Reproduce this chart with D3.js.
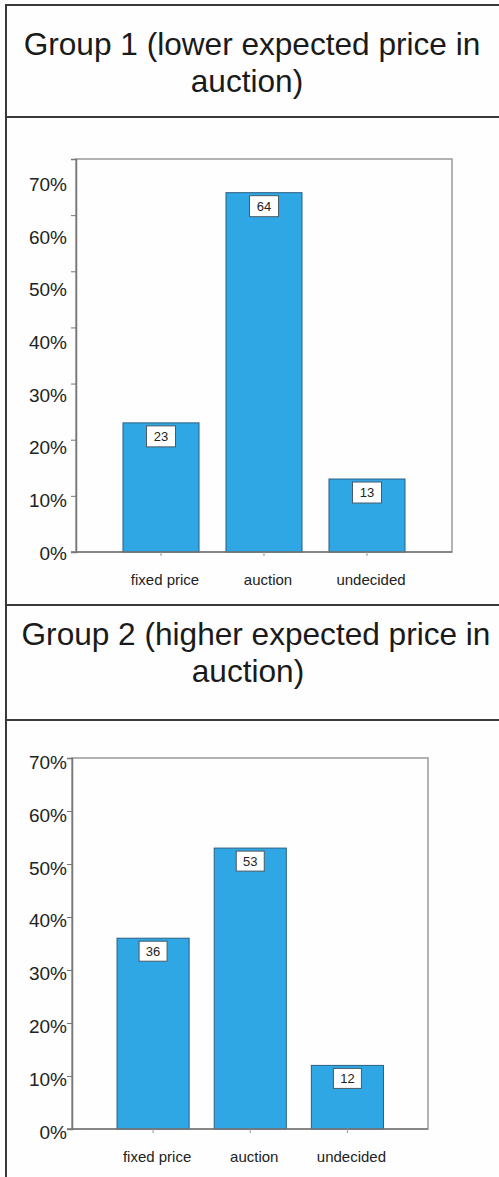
<!DOCTYPE html>
<html>
<head>
<meta charset="utf-8">
<script src="https://cdn.jsdelivr.net/npm/d3@7"></script>
<style>
  body { margin: 0; background: #fefefe; }
  svg { display: block; font-family: "Liberation Sans", Arial, sans-serif; }
</style>
</head>
<body>
<div id="chart"></div>
<script>
// Data
const categories = ['fixed price', 'auction', 'undecided']
const group1Values = [23, 64, 13]
const group2Values = [36, 53, 12]
const yTicks = [0, 10, 20, 30, 40, 50, 60, 70]
const yTickLabels = ['0%', '10%', '20%', '30%', '40%', '50%', '60%', '70%']
const group1Title = ['Group 1 (lower expected price in', 'auction)']
const group2Title = ['Group 2 (higher expected price in', 'auction)']

var width = 499
var height = 1177
var barColor = '#2fa7e5'

var svg = d3.select('#chart')
  .append('svg')
  .attr('width', width)
  .attr('height', height)

// table rules
var rules = [5, 117, 605, 720]
svg.selectAll('line.rule')
  .data(rules)
  .enter()
  .append('line')
  .attr('class', 'rule')
  .attr('x1', 6).attr('x2', width)
  .attr('y1', d => d).attr('y2', d => d)
  .attr('stroke', '#3a3a3a')
  .attr('stroke-width', 2)
svg.append('line')
  .attr('x1', 6).attr('x2', 6)
  .attr('y1', 4).attr('y2', height)
  .attr('stroke', '#3a3a3a')
  .attr('stroke-width', 2)

// panel layouts
var panels = [
  { title: group1Title, titleY: [55, 92], titleX: [252, 247], values: group1Values,
    frame: { left: 76, top: 159, right: 452, bottom: 552 },
    band: [109.5, 418.5], inner: 0.262, labelRange: [553, 184], xLabelY: 585,
    box: { w: 29, h: 21, off: 3 } },
  { title: group2Title, titleY: [645, 682], titleX: [256, 248], values: group2Values,
    frame: { left: 72, top: 758, right: 428, bottom: 1129 },
    band: [104.5, 396], inner: 0.258, labelRange: [1132, 762], xLabelY: 1162,
    box: { w: 28, h: 20, off: 3 } }
]

panels.forEach(p => {
  // title
  svg.append('g').selectAll('text')
    .data(p.title)
    .enter()
    .append('text')
    .attr('x', (d, i) => p.titleX[i])
    .attr('y', (d, i) => p.titleY[i])
    .attr('text-anchor', 'middle')
    .attr('font-size', 31.6)
    .attr('fill', '#1a1a1a')
    .text(d => d)

  const f = p.frame
  const xScale = d3.scaleBand()
    .domain(categories)
    .range(p.band)
    .paddingInner(p.inner)
    .paddingOuter(p.inner / 2)

  const yScale = d3.scaleLinear()
    .domain([0, 70])
    .range([f.bottom, f.top])

  const labelScale = d3.scaleLinear()
    .domain([0, 70])
    .range(p.labelRange)

  // plot frame
  svg.append('rect')
    .attr('x', f.left).attr('y', f.top)
    .attr('width', f.right - f.left)
    .attr('height', f.bottom - f.top)
    .attr('fill', '#fefefe')
    .attr('stroke', '#999')
    .attr('stroke-width', 1.5)

  // bars
  svg.append('g').selectAll('rect')
    .data(p.values)
    .enter()
    .append('rect')
    .attr('x', (d, i) => xScale(categories[i]))
    .attr('y', d => yScale(d))
    .attr('width', xScale.bandwidth())
    .attr('height', d => yScale(0) - yScale(d))
    .attr('fill', barColor)
    .attr('stroke', '#2b5f80')
    .attr('stroke-width', 1)

  // value boxes
  var boxes = svg.append('g').selectAll('g')
    .data(p.values)
    .enter()
    .append('g')
    .attr('transform', (d, i) => 'translate(' + (xScale(categories[i]) + xScale.bandwidth() / 2) + ',' + (yScale(d) + p.box.off) + ')')
  boxes.append('rect')
    .attr('x', -p.box.w / 2)
    .attr('width', p.box.w)
    .attr('height', p.box.h)
    .attr('fill', '#fff')
    .attr('stroke', '#4a5a66')
    .attr('stroke-width', 1)
  boxes.append('text')
    .attr('y', p.box.h / 2)
    .attr('dy', '0.36em')
    .attr('text-anchor', 'middle')
    .attr('font-size', 13)
    .attr('fill', '#222')
    .text(d => d)

  // y axis
  var yAxis = svg.append('g')
    .attr('transform', 'translate(' + f.left + ',0)')
    .call(d3.axisLeft(yScale).tickValues(yTicks).tickSize(5).tickFormat(''))
  yAxis.select('.domain').attr('stroke', '#777').attr('stroke-width', 1.5)
  yAxis.selectAll('.tick line').attr('stroke', '#777')

  svg.append('g').selectAll('text')
    .data(yTicks)
    .enter()
    .append('text')
    .attr('x', 67)
    .attr('y', d => labelScale(d))
    .attr('dy', '0.36em')
    .attr('text-anchor', 'end')
    .attr('font-size', 19)
    .attr('fill', '#222')
    .text((d, i) => yTickLabels[i])

  // x axis
  var xAxis = svg.append('g')
    .attr('transform', 'translate(0,' + f.bottom + ')')
    .call(d3.axisBottom(xScale).tickSize(4).tickFormat(''))
  xAxis.select('.domain').attr('stroke', '#777').attr('stroke-width', 1.5)
    .attr('d', 'M' + (f.left - 5) + ',0H' + f.right)
  xAxis.selectAll('.tick line').attr('stroke', '#999')

  svg.append('g').selectAll('text')
    .data(categories)
    .enter()
    .append('text')
    .attr('x', d => xScale(d) + xScale.bandwidth() / 2 + 4)
    .attr('y', p.xLabelY)
    .attr('text-anchor', 'middle')
    .attr('font-size', 15)
    .attr('fill', '#222')
    .text(d => d)
})
</script>
</body>
</html>
